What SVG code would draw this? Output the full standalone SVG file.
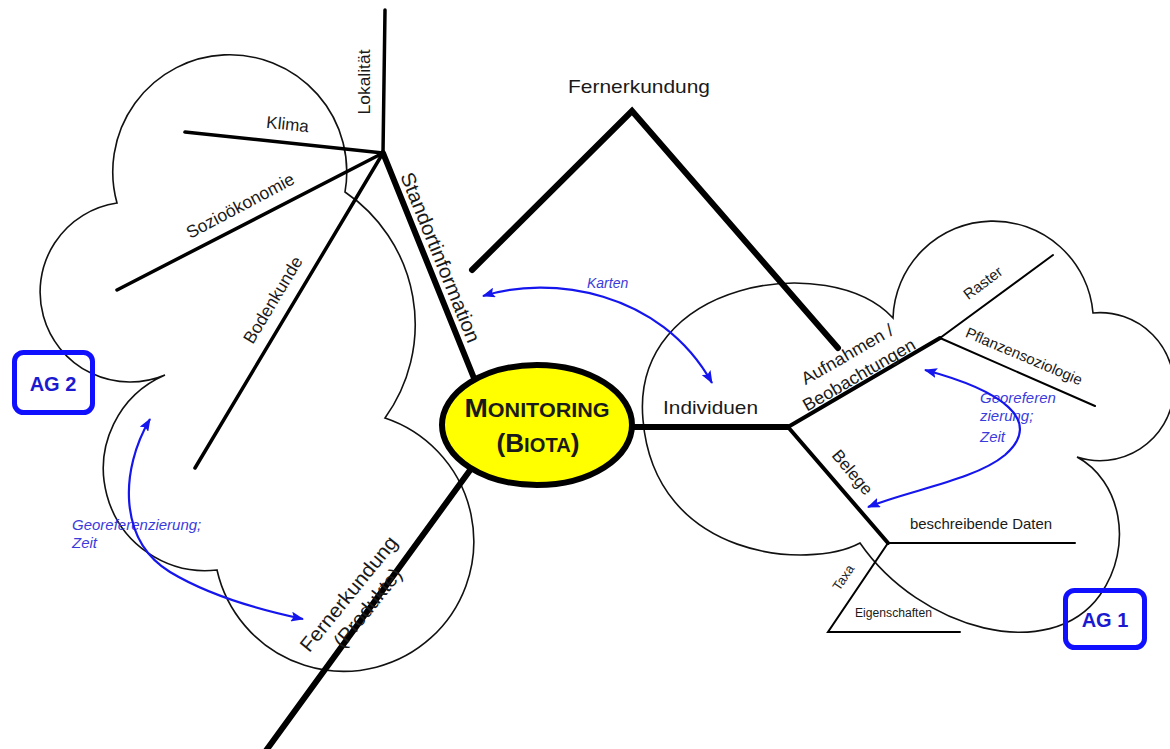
<svg xmlns="http://www.w3.org/2000/svg" width="1170" height="749" viewBox="0 0 1170 749">
<defs>
<style>
.cloud{fill:none;stroke:#111;stroke-width:1.6}
.ln{fill:none;stroke:#000;stroke-linecap:round;stroke-linejoin:miter}
.w6{stroke-width:6}
.w4{stroke-width:4}
.w35{stroke-width:3.5}
.w2{stroke-width:2}
text{font-family:"Liberation Sans",Arial,sans-serif;fill:#1a1a1a}
.bl{fill:#3b3bdc;font-style:italic}
.arr{fill:none;stroke:#1515ee;stroke-width:2.2;marker-start:url(#ah);marker-end:url(#ah)}
.ag{fill:none;stroke:#1010ff;stroke-width:5}
.agt{fill:#1a1ad0;font-weight:bold;font-size:20px}
</style>
<marker id="ah" viewBox="0 0 13 10" refX="12" refY="5" markerWidth="13" markerHeight="10" markerUnits="userSpaceOnUse" orient="auto-start-reverse">
<path d="M0,0 L13,5 L0,10 L2.5,5 Z" fill="#1515ee"/>
</marker>
</defs>
<rect width="1170" height="749" fill="#fff"/>

<g id="cloud-ag2">
<path class="cloud" d="M117,203 A117,117 0 1,1 345,192 A160,160 0 0,1 385,418 A130,130 0 1,1 217,570 A102,102 0 0,1 165,375 A90,90 0 1,1 117,203 Z"/>
</g>
<g id="cloud-ag1">
<path class="cloud" d="M893,318 A100.2,100.2 0 0,1 1093,313 A74,74 0 1,1 1077,457 C1120,480 1135,545 1100,595 C1050,665 920,630 860,543 C810,570 655,560 643,420 C630,280 830,250 893,318 Z"/>
</g>

<g id="connectors">
<line class="ln w35" x1="385" y1="10" x2="383" y2="153"/>
<line class="ln w35" x1="185" y1="132" x2="383" y2="153"/>
<line class="ln w35" x1="117" y1="290" x2="383" y2="153"/>
<line class="ln w35" x1="195" y1="468" x2="383" y2="153"/>
<line class="ln w6" x1="383" y1="153" x2="482" y2="398"/>
<line class="ln w6" x1="492" y1="440" x2="265" y2="752"/>
<polyline class="ln w6" points="472,270 632,111 838,348"/>
<line class="ln w6" x1="620" y1="427" x2="788" y2="427"/>
<line class="ln w4" x1="788" y1="427" x2="940" y2="338"/>
<line class="ln w4" x1="788" y1="427" x2="888" y2="543"/>
<line class="ln w2" x1="940" y1="338" x2="1053" y2="255"/>
<line class="ln w2" x1="940" y1="338" x2="1095" y2="406"/>
<line class="ln w2" x1="888" y1="543" x2="1075" y2="543"/>
<polyline class="ln w2" points="888,543 828,632 960,632"/>
</g>

<g id="node-monitoring">
<ellipse cx="537" cy="425" rx="95" ry="60" fill="#ffff00" stroke="#000" stroke-width="6"/>
<text x="537" y="417" text-anchor="middle" font-weight="bold" textLength="145" lengthAdjust="spacingAndGlyphs"><tspan font-size="26">M</tspan><tspan font-size="20">ONITORING</tspan></text>
<text x="538" y="452" text-anchor="middle" font-weight="bold" textLength="83" lengthAdjust="spacingAndGlyphs"><tspan font-size="26">(B</tspan><tspan font-size="20">IOTA</tspan><tspan font-size="26">)</tspan></text>
</g>

<g id="label-lokalitaet"><text transform="translate(370,82) rotate(-90)" text-anchor="middle" font-size="16" textLength="65" lengthAdjust="spacingAndGlyphs">Lokalität</text></g>
<g id="label-klima"><text transform="translate(287,130) rotate(6)" text-anchor="middle" font-size="17">Klima</text></g>
<g id="label-soziooekonomie"><text transform="translate(243,211) rotate(-28)" text-anchor="middle" font-size="17.5">Sozioökonomie</text></g>
<g id="label-bodenkunde"><text transform="translate(278,303) rotate(-59)" text-anchor="middle" font-size="17.5">Bodenkunde</text></g>
<g id="label-standortinformation"><text transform="translate(434,260) rotate(68)" text-anchor="middle" font-size="20" textLength="182" lengthAdjust="spacingAndGlyphs">Standortinformation</text></g>
<g id="label-fernerkundung-produkte" transform="translate(354,598) rotate(-51)">
<text x="0" y="0" text-anchor="middle" font-size="20" textLength="142" lengthAdjust="spacingAndGlyphs">Fernerkundung</text>
<text x="1" y="23.5" text-anchor="middle" font-size="20" textLength="96" lengthAdjust="spacingAndGlyphs">(Produkte)</text>
</g>
<g id="label-fernerkundung"><text x="639" y="93" text-anchor="middle" font-size="19" textLength="142" lengthAdjust="spacingAndGlyphs">Fernerkundung</text></g>
<g id="label-individuen"><text x="710.5" y="414" text-anchor="middle" font-size="19" textLength="95" lengthAdjust="spacingAndGlyphs">Individuen</text></g>
<g id="label-aufnahmen" transform="translate(862,380) rotate(-30)">
<text x="0" y="-23.6" text-anchor="middle" font-size="17.5" textLength="103" lengthAdjust="spacingAndGlyphs">Aufnahmen /</text>
<text x="0" y="0" text-anchor="middle" font-size="17.5" textLength="127" lengthAdjust="spacingAndGlyphs">Beobachtungen</text>
</g>
<g id="label-raster"><text transform="translate(986,287) rotate(-37)" text-anchor="middle" font-size="15">Raster</text></g>
<g id="label-pflanzensoziologie"><text transform="translate(1022,361) rotate(23)" text-anchor="middle" font-size="15">Pflanzensoziologie</text></g>
<g id="label-belege"><text transform="translate(848,476) rotate(50)" text-anchor="middle" font-size="17">Belege</text></g>
<g id="label-beschreibende-daten"><text x="910" y="529" font-size="15" textLength="142" lengthAdjust="spacingAndGlyphs">beschreibende Daten</text></g>
<g id="label-taxa"><text transform="translate(847,580) rotate(-56)" text-anchor="middle" font-size="13">Taxa</text></g>
<g id="label-eigenschaften"><text x="855" y="617" font-size="12" textLength="77" lengthAdjust="spacingAndGlyphs">Eigenschaften</text></g>

<g id="label-karten"><text class="bl" x="587" y="288" font-size="14">Karten</text></g>
<g id="label-georef-ag1">
<text class="bl" x="980" y="403" font-size="15">Georeferen</text>
<text class="bl" x="980" y="421" font-size="15">zierung;</text>
<text class="bl" x="980" y="442" font-size="15">Zeit</text>
</g>
<g id="label-georef-ag2">
<text class="bl" x="72" y="530" font-size="15">Georeferenzierung;</text>
<text class="bl" x="72" y="548" font-size="15">Zeit</text>
</g>

<g id="arrows">
<path class="arr" d="M483,296 C550,275 660,290 712,383"/>
<path class="arr" d="M925,370 C1000,390 1045,420 1005,455 C975,480 910,490 868,507"/>
<path class="arr" d="M150,419 C120,470 118,540 170,572 C210,596 260,610 303,619"/>
</g>

<g id="node-ag2">
<rect class="ag" x="14.5" y="352.5" width="78" height="60" rx="9"/>
<text class="agt" x="53" y="391" text-anchor="middle">AG 2</text>
</g>
<g id="node-ag1">
<rect class="ag" x="1065.5" y="590.5" width="79" height="57" rx="9"/>
<text class="agt" x="1105" y="627" text-anchor="middle">AG 1</text>
</g>
</svg>
